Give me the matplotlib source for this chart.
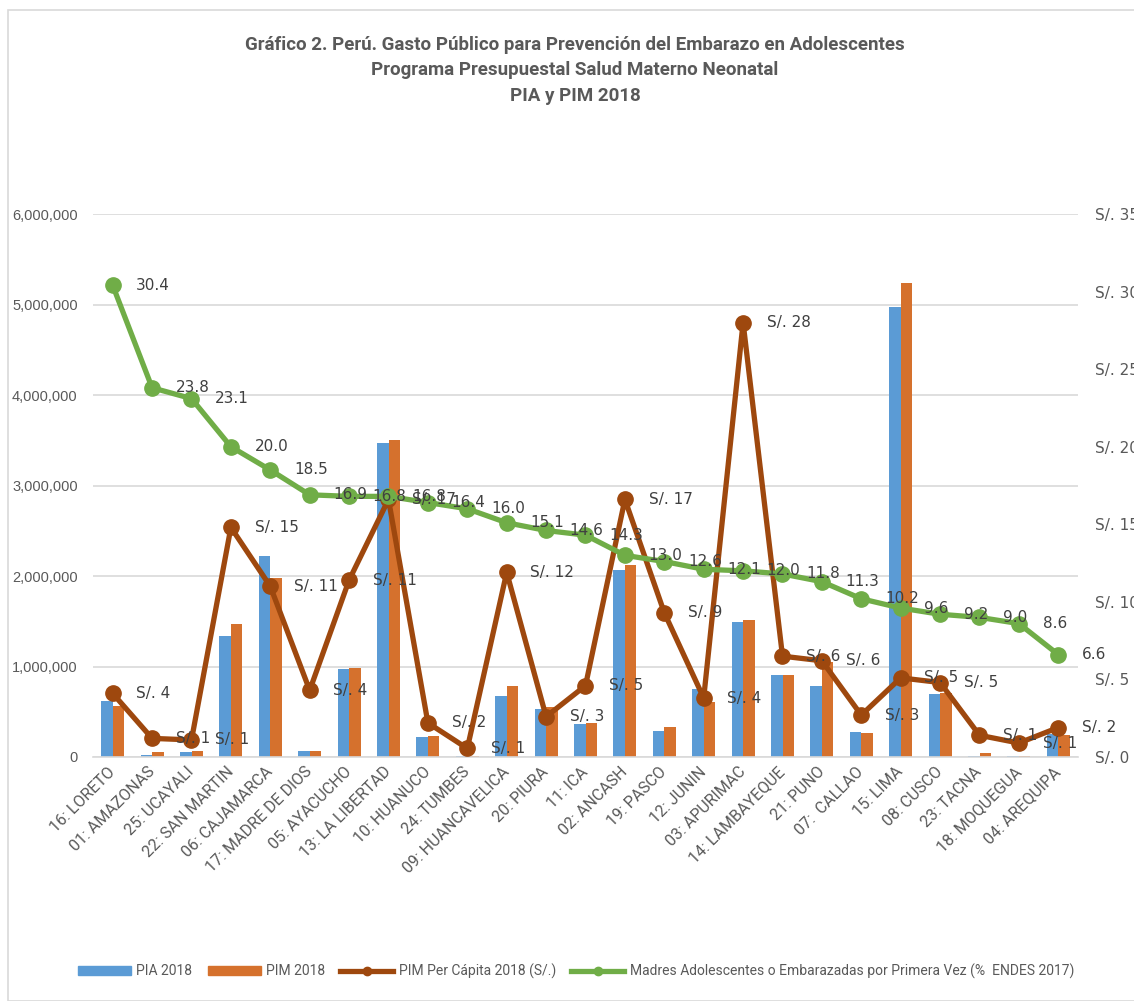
import matplotlib
matplotlib.use("Agg")
import matplotlib.pyplot as plt
from matplotlib.patches import Patch, Rectangle
from matplotlib.lines import Line2D
from matplotlib.ticker import FuncFormatter

regions = ["16: LORETO", "01: AMAZONAS", "25: UCAYALI", "22: SAN MARTIN", "06: CAJAMARCA",
           "17: MADRE DE DIOS", "05: AYACUCHO", "13: LA LIBERTAD", "10: HUANUCO", "24: TUMBES",
           "09: HUANCAVELICA", "20: PIURA", "11: ICA", "02: ANCASH", "19: PASCO",
           "12: JUNIN", "03: APURIMAC", "14: LAMBAYEQUE", "21: PUNO", "07:  CALLAO",
           "15: LIMA", "08: CUSCO", "23: TACNA", "18: MOQUEGUA", "04: AREQUIPA"]

pia = [620000, 20000, 60000, 1340000, 2220000, 65000, 975000, 3470000, 220000, 8000,
       670000, 530000, 360000, 2070000, 290000, 750000, 1495000, 910000, 785000, 276000,
       4970000, 700000, 13000, 13000, 255000]
pim = [565000, 50000, 65000, 1470000, 1980000, 65000, 985000, 3500000, 230000, 10000,
       790000, 550000, 380000, 2120000, 335000, 610000, 1510000, 910000, 1050000, 267000,
       5240000, 705000, 40000, 13000, 245000]
per_capita = [4.1, 1.2, 1.1, 14.8, 11.0, 4.3, 11.4, 16.6, 2.2, 0.55,
              11.9, 2.6, 4.6, 16.6, 9.3, 3.8, 28.0, 6.5, 6.2, 2.7,
              5.1, 4.8, 1.4, 0.9, 1.9]
madres = [30.4, 23.8, 23.1, 20.0, 18.5, 16.9, 16.8, 16.8, 16.4, 16.0,
          15.1, 14.6, 14.3, 13.0, 12.6, 12.1, 12.0, 11.8, 11.3, 10.2,
          9.6, 9.2, 9.0, 8.6, 6.6]

c_pia = "#5B9BD5"
c_pim = "#D5712D"
c_brown = "#9E480E"
c_green = "#70AD47"
grey = "#595959"
narrow = ["Roboto", "DejaVu Sans"]

fig = plt.figure(figsize=(11.34, 10.01), dpi=100)
ax = fig.add_axes([93 / 1134, 1 - 757 / 1001, (1078 - 93) / 1134, (757 - 214) / 1001])
ax2 = ax.twinx()

x = list(range(len(regions)))
w = 0.29
ax.bar([i - w / 2 for i in x], pia, width=w, color=c_pia, zorder=2)
ax.bar([i + w / 2 for i in x], pim, width=w, color=c_pim, zorder=2)
ax.set_ylim(0, 6000000)
ax.set_xlim(-0.5, len(regions) - 0.5)
ax.yaxis.set_major_formatter(FuncFormatter(lambda v, p: f"{v:,.0f}"))
ax.grid(axis="y", color="#D9D9D9", linewidth=1.2, zorder=0)
ax.set_axisbelow(True)
ax.set_xticks(x)
ax.set_xticklabels(regions, rotation=45, ha="right", va="center", rotation_mode="anchor",
                   fontsize=11.5, color=grey, family=narrow)
ax.tick_params(axis="x", length=0, pad=9)
ax.tick_params(axis="y", length=0, pad=11, labelsize=10.5, labelcolor=grey)
for t in ax.get_yticklabels():
    t.set_family(["Liberation Sans", "DejaVu Sans"])

ax2.plot(x, per_capita, color=c_brown, lw=3.8, marker="o", ms=11, zorder=3)
ax2.plot(x, madres, color=c_green, lw=3.8, marker="o", ms=11, zorder=4)
ax2.set_ylim(0, 35)
ax2.set_yticks(range(0, 36, 5))
ax2.set_yticklabels([f"S/. {v}" for v in range(0, 36, 5)])
ax2.tick_params(axis="y", length=0, pad=12, labelsize=11, labelcolor=grey)

for a in (ax, ax2):
    for s in a.spines.values():
        s.set_visible(False)
ax.spines["bottom"].set_visible(True)
ax.spines["bottom"].set_color("#D9D9D9")
ax.spines["bottom"].set_linewidth(1.2)

for i in x:
    ax2.annotate(f"S/. {per_capita[i]:.0f}" if per_capita[i] >= 1 else "S/. 1",
                 (i, per_capita[i]), xytext=(17, 0), textcoords="offset points",
                 ha="left", va="center", fontsize=11, color="#404040", zorder=5,
                 annotation_clip=False)
    ax2.annotate(f"{madres[i]:.1f}", (i, madres[i]), xytext=(17, 0), textcoords="offset points",
                 ha="left", va="center", fontsize=11, color="#404040", zorder=6,
                 annotation_clip=False)

titles = ["Gráfico 2. Perú. Gasto Público para Prevención del Embarazo en Adolescentes",
          "Programa Presupuestal Salud Materno Neonatal",
          "PIA y PIM 2018"]
for t, yy in zip(titles, [45, 70, 96]):
    fig.text(0.507, 1 - yy / 1001, t, ha="center", va="center", fontsize=13.5,
             fontweight="bold", color=grey, family=narrow)

handles = [Patch(color=c_pia), Patch(color=c_pim),
           Line2D([], [], color=c_brown, lw=3.8, marker="o", ms=6),
           Line2D([], [], color=c_green, lw=3.8, marker="o", ms=6)]
labels = ["PIA 2018", "PIM 2018", "PIM Per Cápita 2018 (S/.)",
          "Madres Adolescentes o Embarazadas por Primera Vez (%  ENDES 2017)"]
leg = fig.legend(handles, labels, loc="center", bbox_to_anchor=(0.508, 0.030), ncol=4,
                 frameon=False, handlelength=3.8, handleheight=0.6, handletextpad=0.4,
                 columnspacing=1.1, prop={"family": narrow, "size": 10})
for t in leg.get_texts():
    t.set_color(grey)

fig.patches.append(Rectangle((8 / 1134, 0), 1, 1 - 10 / 1001, transform=fig.transFigure,
                             fill=False, edgecolor="#D9D9D9", linewidth=1.2))

fig.savefig("out.png", dpi=100)
